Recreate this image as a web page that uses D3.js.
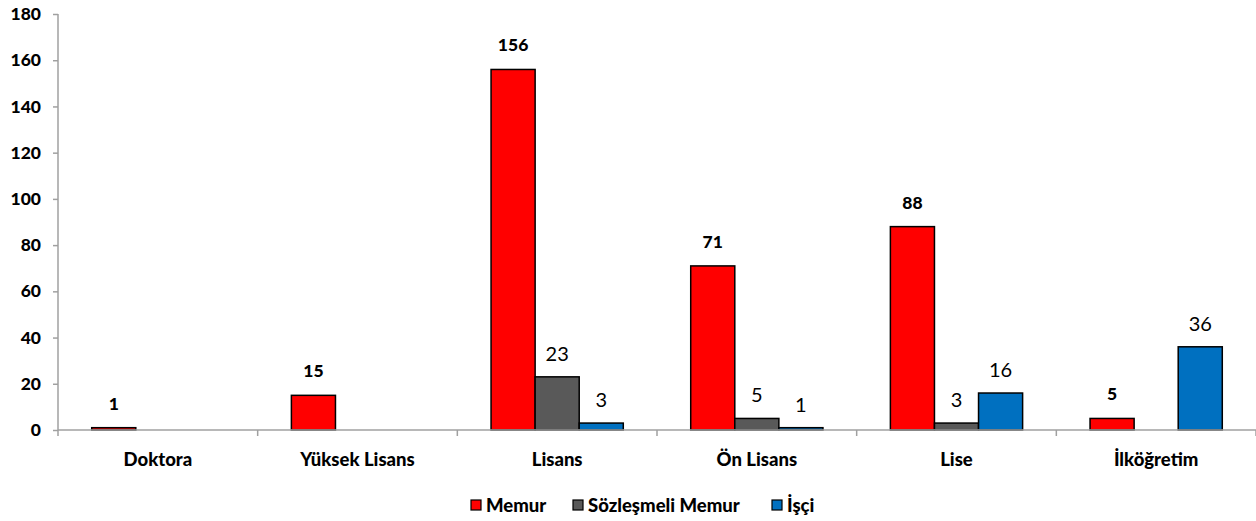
<!DOCTYPE html>
<html><head><meta charset="utf-8">
<script src="https://cdn.jsdelivr.net/npm/d3@7"></script>
<style>body{margin:0;background:#fff}svg{display:block;font-family:Lato,"Open Sans",sans-serif}</style>
</head><body><svg id="c" width="1256" height="521"></svg>
<script>
const categories = ["Doktora","Yüksek Lisans","Lisans","Ön Lisans","Lise","İlköğretim"];
const seriesNames = ["Memur","Sözleşmeli Memur","İşçi"];
const memur = [1,15,156,71,88,5];
const sozlesmeli = [null,null,23,5,3,null];
const isci = [null,null,3,1,16,36];
const yTicks = [0,20,40,60,80,100,120,140,160,180];
const colors = ["#ff0000","#595959","#0070c0"];

const svg = d3.select("#c");
const x0 = d3.scaleBand().domain(categories).range([58,1256]);
const y = d3.scaleLinear().domain([0,180]).range([430,14]);
const x1 = d3.scaleBand().domain(seriesNames).range([0,x0.bandwidth()]).paddingOuter(0.765).paddingInner(0);

const series = [memur,sozlesmeli,isci];
const g = svg.append("g");
series.forEach((vals,si)=>{
  categories.forEach((c,ci)=>{
    const v = vals[ci];
    if(v==null) return;
    const bx = x0(c)+x1(seriesNames[si]);
    g.append("rect").attr("x",bx).attr("y",y(v)).attr("width",x1.bandwidth()).attr("height",y(0)-y(v))
      .attr("fill",colors[si]).attr("stroke","#000").attr("stroke-width",1.5);
    const bold = si===0;
    g.append("text").attr("x",bx+x1.bandwidth()/2).attr("y",y(v)-(bold?18:16))
      .attr("text-anchor","middle").attr("font-size",bold?17.5:20).attr("font-weight",bold?"900":"normal")
      .attr("fill","#000").text(v);
  });
});

// y axis
const ya = svg.append("g").attr("transform","translate(58,0)")
  .call(d3.axisLeft(y).tickValues(yTicks).tickSize(5).tickPadding(12));
ya.select(".domain").attr("stroke","#a0a0a0").attr("stroke-width",1.5).attr("d","M0,"+y(180)+"V"+y(0));
ya.selectAll(".tick line").attr("stroke","#a0a0a0").attr("stroke-width",1.5);
ya.selectAll(".tick text").attr("font-size",17.5).attr("font-weight","900").attr("fill","#000").attr("font-family","Lato,sans-serif");

// x axis
const xa = svg.append("g").attr("transform","translate(0,430)");
xa.append("line").attr("x1",58).attr("x2",1256).attr("stroke","#a0a0a0").attr("stroke-width",1.5);
const edges = categories.map(c=>x0(c)).concat([x0.range()[1]]);
xa.selectAll(".tk").data(edges).join("line").attr("x1",d=>d).attr("x2",d=>d).attr("y1",0).attr("y2",6)
  .attr("stroke","#a0a0a0").attr("stroke-width",1.5);
xa.selectAll(".lb").data(categories).join("text").attr("x",d=>x0(d)+x0.bandwidth()/2).attr("y",36)
  .attr("text-anchor","middle").attr("font-size",18.5).attr("font-weight","900").attr("fill","#000").text(d=>d);

// legend
const legX = [471,573,772];
const lg = svg.append("g");
seriesNames.forEach((n,i)=>{
  lg.append("rect").attr("x",legX[i]).attr("y",500).attr("width",10).attr("height",10)
    .attr("fill",colors[i]).attr("stroke","#000").attr("stroke-width",1.2);
  lg.append("text").attr("x",legX[i]+15).attr("y",512).attr("font-size",18.5).attr("font-weight","900").attr("fill","#000").text(n);
});
</script></body></html>
